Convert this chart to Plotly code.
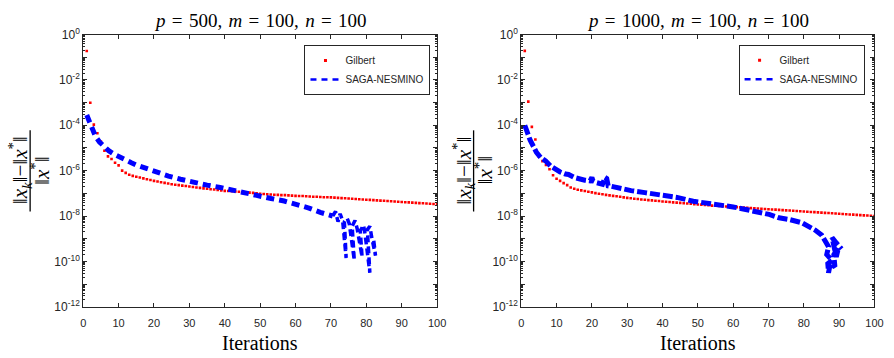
import plotly.graph_objects as go

# ---------------- data ----------------
iters = list(range(1, 101))

# log10 of relative error, Gilbert, p=500
gilbert_left_log = [
    -0.73, -3.01, -3.97, -4.35, -4.72, -5.12, -5.37, -5.49, -5.65, -5.77,
    -6.00, -6.10, -6.18, -6.23, -6.27, -6.30, -6.34, -6.38, -6.41, -6.45,
    -6.48, -6.51, -6.54, -6.57, -6.60, -6.62, -6.64, -6.66, -6.68, -6.70,
    -6.72, -6.74, -6.76, -6.78, -6.80, -6.82, -6.83, -6.85, -6.87, -6.89,
    -6.90, -6.91, -6.92, -6.93, -6.95, -6.96, -6.97, -6.98, -7.00, -7.02,
    -7.03, -7.04, -7.05, -7.06, -7.07, -7.08, -7.08, -7.09, -7.10, -7.11,
    -7.12, -7.12, -7.13, -7.14, -7.15, -7.15, -7.16, -7.17, -7.17, -7.18,
    -7.19, -7.20, -7.21, -7.22, -7.23, -7.24, -7.25, -7.26, -7.27, -7.28,
    -7.29, -7.30, -7.31, -7.32, -7.33, -7.34, -7.35, -7.36, -7.37, -7.38,
    -7.39, -7.40, -7.41, -7.42, -7.43, -7.44, -7.45, -7.46, -7.47, -7.48,
]

# log10 of relative error, Gilbert, p=1000
gilbert_right_log = [
    -0.72, -2.96, -4.07, -4.63, -5.37, -5.58, -5.75, -5.94, -6.20, -6.36,
    -6.45, -6.55, -6.64, -6.74, -6.80, -6.84, -6.87, -6.90, -6.93, -6.96,
    -6.99, -7.02, -7.04, -7.07, -7.09, -7.11, -7.13, -7.15, -7.18, -7.20,
    -7.22, -7.24, -7.25, -7.27, -7.28, -7.30, -7.31, -7.33, -7.34, -7.36,
    -7.37, -7.38, -7.40, -7.41, -7.42, -7.44, -7.45, -7.46, -7.48, -7.49,
    -7.50, -7.51, -7.52, -7.54, -7.55, -7.56, -7.57, -7.58, -7.59, -7.60,
    -7.61, -7.62, -7.63, -7.64, -7.65, -7.66, -7.67, -7.68, -7.69, -7.70,
    -7.71, -7.72, -7.73, -7.74, -7.75, -7.76, -7.77, -7.78, -7.79, -7.80,
    -7.81, -7.82, -7.83, -7.84, -7.85, -7.86, -7.87, -7.88, -7.89, -7.90,
    -7.91, -7.92, -7.93, -7.94, -7.95, -7.96, -7.97, -7.98, -7.99, -8.00,
]

# SAGA-NESMINO, p=500 (iteration, log10 error): smooth part then oscillating tail
saga_left_iter = [
    1.0, 1.5, 2.0, 2.6, 3.5, 4.6, 6.0, 7.2, 9.0, 10.5, 12.0, 13.6, 15.0, 17.0,
    20.5, 24.1, 27.5, 31.2, 35.0, 38.7, 42.0, 45.6, 49.3, 53.1, 56.8, 60.1,
    63.8, 67.0, 70.5,
]
saga_left_log = [
    -3.55, -3.72, -3.95, -4.21, -4.50, -4.74, -4.97, -5.12, -5.30, -5.43,
    -5.55, -5.65, -5.75, -5.87, -6.05, -6.24, -6.38, -6.53, -6.64, -6.74,
    -6.86, -6.99, -7.09, -7.23, -7.34, -7.48, -7.65, -7.84, -8.00,
]
saga_left_tail_iter = [
    70.5, 71.3, 72.0, 72.6, 73.3, 74.3, 73.8, 74.6, 75.2, 76.6, 76.0, 76.8,
    77.4, 78.8, 78.3, 79.2, 79.6, 81.0, 80.3, 81.0, 81.6, 82.6, 82.0,
]
saga_left_tail_log = [
    -8.00, -7.80, -8.25, -7.90, -8.20, -9.85, -8.25, -8.10, -8.35, -9.95,
    -8.45, -8.20, -8.55, -9.80, -8.65, -8.40, -8.75, -10.50, -8.60, -8.45,
    -9.00, -9.75, -8.95,
]

# SAGA-NESMINO, p=1000 (iteration, log10 error)
saga_right_iter = [
    1.0, 1.5, 2.5, 3.5, 4.3, 5.5, 6.9, 8.3, 9.7, 11.0, 12.5, 13.4, 15.0, 16.7,
    18.0, 19.5, 20.0, 20.3, 21.3, 23.0, 23.7, 24.2, 24.6, 25.5, 27.8, 31.1,
    35.0, 38.5, 44.1, 48.7, 52.0, 55.3, 58.1, 60.0, 62.5, 65.5, 68.0, 70.2,
    73.0, 75.8, 79.5, 81.5, 83.2, 85.1, 86.0, 87.0, 86.5, 88.0, 86.8, 87.0,
    87.5, 88.8, 88.5, 89.8, 89.2, 88.0, 89.3, 90.7,
]
saga_right_log = [
    -4.00, -4.25, -4.65, -4.95, -5.20, -5.42, -5.57, -5.80, -5.96, -6.06,
    -6.15, -6.17, -6.30, -6.38, -6.42, -6.45, -6.30, -6.45, -6.53, -6.60,
    -6.30, -6.35, -6.67, -6.69, -6.78, -6.88, -6.97, -7.04, -7.18, -7.35,
    -7.42, -7.48, -7.53, -7.60, -7.68, -7.77, -7.86, -7.93, -8.08, -8.15,
    -8.30, -8.45, -8.62, -8.85, -9.10, -9.35, -9.70, -9.96, -10.10, -10.50,
    -10.10, -10.24, -9.70, -9.40, -9.80, -8.95, -9.20, -9.45,
]

SP = "\u2004"
titles = [
    "<i>p</i>" + SP + "=" + SP + "500," + SP + "<i>m</i>" + SP + "=" + SP + "100,"
    + SP + "<i>n</i>" + SP + "=" + SP + "100",
    "<i>p</i>" + SP + "=" + SP + "1000," + SP + "<i>m</i>" + SP + "=" + SP + "100,"
    + SP + "<i>n</i>" + SP + "=" + SP + "100",
]
series_names = ["Gilbert", "SAGA-NESMINO"]
x_label = "Iterations"
y_num = "‖<i>x</i><sub><i>k</i></sub>‖−‖<i>x</i><sup>*</sup>‖"
y_den = "‖<i>x</i><sup>*</sup>‖"
y_decades = list(range(-12, 1))
y_ticktext = ["10<sup>%d</sup>" % d if d % 2 == 0 else "" for d in y_decades]
x_ticks = list(range(0, 101, 10))

# ---------------- figure ----------------
W, H = 894, 358
RED = "#ff0000"
BLUE = "#0000ff"
AX = "#262626"
SANS = "Liberation Sans, Arial, sans-serif"
SERIF = "Liberation Serif, Times New Roman, serif"

y_tickvals = [10.0 ** d for d in y_decades]
y_minorvals = [m * 10.0 ** d for d in y_decades[:-1] for m in range(2, 10)]


def px_x(p):
    return p / W


def px_y(p):
    return (H - p) / H


fig = go.Figure()

panels = [
    dict(n=1, gl=gilbert_left_log,
         segs=[(saga_left_iter, saga_left_log, 5, "8px,5px"),
               (saga_left_tail_iter, saga_left_tail_log, 3.5, "7px,4px")],
         xd=[px_x(81.3), px_x(440)], leg="legend", off=0),
    dict(n=2, gl=gilbert_right_log,
         segs=[(saga_right_iter, saga_right_log, 5, "10px,3px")],
         xd=[px_x(525.3), px_x(883.3)], leg="legend2", off=449.5),
]

axis_common = dict(
    showline=True, linecolor=AX, linewidth=1,
    ticks="inside", tickcolor=AX, tickwidth=1, showgrid=False,
    zeroline=False,
)
ydomain = [px_y(311.7), px_y(26.7)]

for i, pnl in enumerate(panels):
    n = pnl["n"]
    sx = "" if n == 1 else "2"
    sy = "" if n == 1 else "2"
    sy_r = "3" if n == 1 else "4"
    xa, ya, yr = "x" + sx, "y" + sy, "y" + sy_r

    fig.add_trace(go.Scatter(
        x=iters, y=[10 ** v for v in pnl["gl"]], mode="markers",
        marker=dict(color=RED, size=2.6, symbol="square", line=dict(width=0)),
        xaxis=xa, yaxis=ya, showlegend=False, hoverinfo="skip"))
    for sxv, syv, lw, dsh in pnl["segs"]:
        fig.add_trace(go.Scatter(
            x=sxv, y=[10 ** v for v in syv], mode="lines",
            line=dict(color=BLUE, width=lw, dash=dsh),
            xaxis=xa, yaxis=ya, showlegend=False, hoverinfo="skip"))
    # invisible trace so the mirrored right-hand axis is drawn
    fig.add_trace(go.Scatter(
        x=[None], y=[None], mode="markers", xaxis=xa, yaxis=yr,
        showlegend=False, hoverinfo="skip"))
    # legend entries
    fig.add_trace(go.Scatter(
        x=[None], y=[None], mode="markers", name=series_names[0],
        marker=dict(color=RED, size=3, symbol="square", line=dict(width=0)),
        xaxis=xa, yaxis=ya, legend=pnl["leg"]))
    fig.add_trace(go.Scatter(
        x=[None], y=[None], mode="lines", name=series_names[1],
        line=dict(color=BLUE, width=2.5, dash="6px,5px"),
        xaxis=xa, yaxis=ya, legend=pnl["leg"]))

    fig.layout["xaxis" + sx] = dict(
        domain=pnl["xd"], range=[0, 100], tickmode="array", tickvals=x_ticks,
        ticktext=[str(t) for t in x_ticks], ticklen=4, anchor=ya,
        mirror="ticks", tickfont=dict(family=SANS, size=11, color=AX),
        ticklabelstandoff=6, **axis_common)
    fig.layout["yaxis" + sy] = dict(
        domain=ydomain, type="log", range=[-12, 0],
        tickmode="array", tickvals=y_tickvals, ticktext=y_ticktext,
        ticklen=4, anchor=xa,
        minor=dict(ticks="inside", ticklen=2, tickcolor=AX, tickwidth=1,
                   tickmode="array", tickvals=y_minorvals, showgrid=False),
        tickfont=dict(family=SANS, size=12, color=AX),
        **axis_common)
    fig.layout["yaxis" + sy_r] = dict(
        domain=ydomain, type="log", range=[-12, 0], side="right",
        overlaying=ya, anchor=xa, tickmode="array", tickvals=y_tickvals,
        showticklabels=False, ticklen=4,
        minor=dict(ticks="inside", ticklen=2, tickcolor=AX, tickwidth=1,
                   tickmode="array", tickvals=y_minorvals, showgrid=False),
        **axis_common)

    cx = (pnl["xd"][0] + pnl["xd"][1]) / 2
    fig.add_annotation(x=cx, y=px_y(12), xref="paper", yref="paper",
                       text=titles[i], showarrow=False,
                       font=dict(family=SERIF, size=19, color="#000000"),
                       xanchor="center", yanchor="middle")
    fig.add_annotation(x=cx, y=px_y(350), xref="paper", yref="paper",
                       text=x_label, showarrow=False,
                       font=dict(family=SERIF, size=20, color="#000000"),
                       xanchor="center", yanchor="middle")
    off = pnl["off"]
    fig.add_annotation(x=px_x(17 + off), y=px_y(169), xref="paper", yref="paper",
                       text=y_num, showarrow=False, textangle=-90,
                       font=dict(family=SERIF, size=21, color="#000000"),
                       xanchor="center", yanchor="middle")
    fig.add_annotation(x=px_x(38 + off), y=px_y(169), xref="paper", yref="paper",
                       text=y_den, showarrow=False, textangle=-90,
                       font=dict(family=SERIF, size=21, color="#000000"),
                       xanchor="center", yanchor="middle")
    fig.add_shape(type="line", xref="paper", yref="paper",
                  x0=px_x(27.5 + off), x1=px_x(27.5 + off),
                  y0=px_y(127), y1=px_y(212),
                  line=dict(color="#000000", width=1.3))

legend_common = dict(
    bgcolor="#ffffff", bordercolor=AX, borderwidth=1,
    font=dict(family=SANS, size=10, color=AX),
    xanchor="right", yanchor="top", itemwidth=30, tracegroupgap=0,
)
fig.update_layout(
    width=W, height=H,
    margin=dict(l=0, r=0, t=0, b=0),
    paper_bgcolor="#ffffff", plot_bgcolor="#ffffff",
    legend=dict(x=px_x(433.3), y=px_y(37.7), **legend_common),
    legend2=dict(x=px_x(873.3), y=px_y(37.3), **legend_common),
)

fig.write_html("out.html")
